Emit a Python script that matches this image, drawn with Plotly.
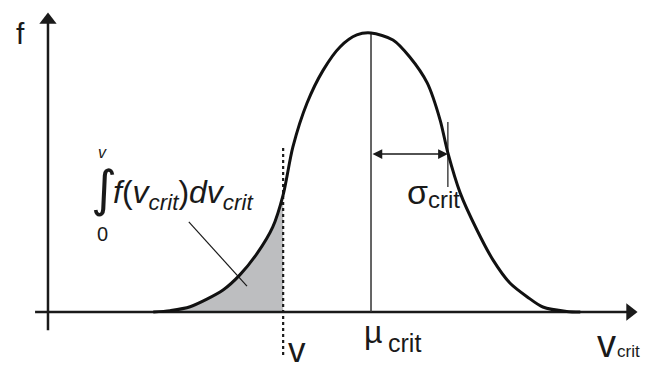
import plotly.graph_objects as go

# distribution curve (v_crit in arbitrary units, f normalised to peak = 1)
v_curve = [1.63, 1.89, 2.20, 2.71, 2.97, 3.24, 3.48, 3.64, 3.79, 4.01, 4.26, 4.52, 4.78, 5.00,
           5.34, 5.60, 5.87, 6.07, 6.19, 6.38, 6.64, 6.89, 7.15, 7.42, 7.66, 8.03, 8.24]
f_curve = [0.0, 0.005, 0.019, 0.079, 0.133, 0.211, 0.305, 0.42, 0.591, 0.749, 0.867, 0.950, 0.993, 1.0,
           0.975, 0.914, 0.821, 0.688, 0.570, 0.427, 0.294, 0.186, 0.104, 0.054, 0.018, 0.002, 0.0]

v_cut = 3.64      # the "v" limit of the integral
mu_crit = 5.0
sigma_crit = 1.19
sigma_level = 0.566

# axes extents
x_axis = [-0.2, 9.13]
y_axis = [-0.065, 1.075]

n_shade = v_curve.index(v_cut) + 1
INK = "#1a1a1a"

fig = go.Figure()

# shaded integral
fig.add_trace(go.Scatter(
    x=v_curve[:n_shade], y=f_curve[:n_shade],
    mode="lines", line=dict(width=0, shape="spline", smoothing=0.8),
    fill="tozeroy", fillcolor="#bdbec0", hoverinfo="skip",
))

# axes with arrow heads
fig.add_trace(go.Scatter(x=[x_axis[0], x_axis[1] - 0.1], y=[0, 0], mode="lines",
                         line=dict(color=INK, width=2.5), hoverinfo="skip"))
fig.add_trace(go.Scatter(x=[0, 0], y=[y_axis[0], y_axis[1] - 0.03], mode="lines",
                         line=dict(color=INK, width=2.5), hoverinfo="skip"))
fig.add_trace(go.Scatter(x=[x_axis[1] - 0.12], y=[0], mode="markers",
                         marker=dict(symbol="triangle-right", size=15, color=INK), hoverinfo="skip"))
fig.add_trace(go.Scatter(x=[0], y=[y_axis[1] - 0.028], mode="markers",
                         marker=dict(symbol="triangle-up", size=15, color=INK), hoverinfo="skip"))

# mean line
fig.add_trace(go.Scatter(x=[mu_crit, mu_crit], y=[0, max(f_curve)], mode="lines",
                         line=dict(color="#333333", width=1.5), hoverinfo="skip"))

# sigma tick
fig.add_trace(go.Scatter(x=[mu_crit + sigma_crit] * 2, y=[0.448, 0.681], mode="lines",
                         line=dict(color=INK, width=1.2), hoverinfo="skip"))

# dotted line at v
fig.add_trace(go.Scatter(x=[v_cut, v_cut], y=[-0.154, 0.588], mode="lines",
                         line=dict(color=INK, width=2.2, dash="dot"), hoverinfo="skip"))

# leader line for the integral
fig.add_trace(go.Scatter(x=[2.18, 3.08], y=[0.323, 0.093], mode="lines",
                         line=dict(color=INK, width=1.2), hoverinfo="skip"))

# the curve
fig.add_trace(go.Scatter(
    x=v_curve, y=f_curve, mode="lines",
    line=dict(color="#111111", width=3, shape="spline", smoothing=0.8), hoverinfo="skip",
))

# sigma double arrow
fig.add_annotation(x=mu_crit + sigma_crit, y=sigma_level, ax=mu_crit, ay=sigma_level,
                   xref="x", yref="y", axref="x", ayref="y", text="",
                   showarrow=True, arrowhead=2, arrowside="end+start",
                   arrowsize=1.3, arrowwidth=1.5, arrowcolor=INK)


def label(x, y, text, size, family="Liberation Sans", **kw):
    fig.add_annotation(x=x, y=y, text=text, xref="x", yref="y", showarrow=False,
                       font=dict(family=family, size=size, color=INK), **kw)


label(-0.42, 1.0, "f", 30)
label(3.86, -0.135, "v", 35)
label(5.03, -0.07, "µ", 32)
label(5.52, -0.11, "crit", 25)
label(8.64, -0.115, "v", 38)
label(8.98, -0.14, "crit", 17)
label(5.72, 0.43, "σ", 34)
label(6.13, 0.405, "crit", 24)

# integral expression
label(0.87, 0.44, "∫", 50, family="DejaVu Sans")
label(0.84, 0.57, "<i>v</i>", 16)
label(0.85, 0.28, "0", 20)
label(0.97, 0.42, "<i>f</i>(<i>v<sub>crit</sub></i>)<i>dv<sub>crit</sub></i>", 32, xanchor="left")

# the page adds an 8px body margin, so the figure is 8px smaller and the ranges start 8px in
fig.update_layout(
    width=645, height=358, autosize=False,
    margin=dict(l=0, r=0, t=0, b=0),
    paper_bgcolor="white", plot_bgcolor="white",
    showlegend=False,
    xaxis=dict(range=[-0.619, 9.365], visible=False, fixedrange=True),
    yaxis=dict(range=[-0.1935, 1.0896], visible=False, fixedrange=True),
)

fig.write_html("out.html")
